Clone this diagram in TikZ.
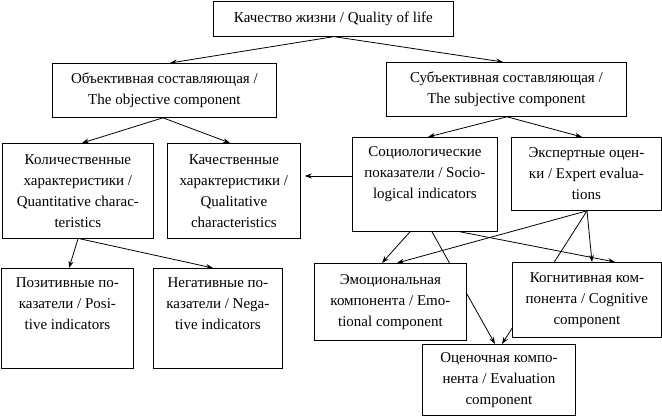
\documentclass[tikz,border=0pt]{standalone}
\usepackage{fontspec}
\setmainfont{Liberation Serif}
\usetikzlibrary{arrows.meta,calc}
\pgfdeclarelayer{background}
\pgfsetlayers{background,main}
\newcommand{\bxc}[3]{\parbox[c][#2][c]{#1}{\centering #3}}
\newcommand{\bxt}[3]{\parbox[c][#2][t]{#1}{\centering\vspace*{9pt}#3}}
\begin{document}
\begin{tikzpicture}[x=1pt,y=-1pt,
  box/.style={draw=black, line width=0.8pt, fill=white, inner sep=0pt, anchor=north west,
    font=\fontsize{15}{21}\selectfont},
  conn/.style={line width=0.8pt, -{Stealth[length=7pt,width=5pt]}},
  plain/.style={line width=0.8pt}]
\useasboundingbox (0,0) rectangle (662,417);

\node[box] (top)   at (213,1)   {\bxc{240pt}{35pt}{Качество жизни / Quality of life}};
\node[box] (obj)   at (52,63)   {\bxc{224pt}{54pt}{Объективная составляющая /\\The objective component}};
\node[box] (subj)  at (386,62)  {\bxc{240pt}{54pt}{Субъективная составляющая /\\The subjective component}};
\node[box] (quant) at (2,143)   {\bxc{151pt}{95pt}{Количественные\\характеристики /\\Quantitative charac-\\teristics}};
\node[box] (qual)  at (167,143) {\bxc{133pt}{95pt}{Качественные\\характеристики /\\Qualitative\\characteristics}};
\node[box] (soc)   at (352,137) {\bxt{145pt}{94pt}{Социологические\\показатели / Socio-\\logical indicators}};
\node[box] (exp)   at (511,137) {\bxc{150pt}{73pt}{Экспертные оцен-\\ки / Expert evalua-\\tions}};
\node[box] (pos)   at (1,268)   {\bxt{132pt}{100pt}{Позитивные по-\\казатели / Posi-\\tive indicators}};
\node[box] (neg)   at (153,268) {\bxt{129pt}{100pt}{Негативные по-\\казатели / Nega-\\tive indicators}};
\node[box] (emo)   at (314,263) {\bxc{152pt}{77pt}{Эмоциональная\\компонента / Emo-\\tional component}};
\node[box] (cog)   at (512,262) {\bxc{149pt}{75pt}{Когнитивная ком-\\понента / Cognitive\\component}};
\node[box] (eval)  at (422,344) {\bxc{153pt}{71pt}{Оценочная компо-\\нента / Evaluation\\component}};

\begin{pgfonlayer}{background}
\draw[conn] ($(top.south west)+(120,0)$) -- ($(obj.north west)+(118,0)$);
\draw[conn] ($(top.south west)+(122,0)$) -- ($(subj.north west)+(117,0)$);
\draw[conn] ($(obj.south west)+(111,0)$) -- ($(quant.north west)+(80,0)$);
\draw[conn] ($(obj.south west)+(111,0)$) -- ($(qual.north west)+(63,0)$);
\draw[conn] ($(subj.south west)+(121,0)$) -- ($(soc.north west)+(76,0)$);
\draw[conn] ($(subj.south west)+(121,0)$) -- ($(exp.north west)+(71,0)$);
\draw[conn] ($(quant.south west)+(76,0)$) -- ($(pos.north west)+(68,0)$);
\draw[conn] ($(quant.south west)+(78,0)$) -- ($(neg.north west)+(60,0)$);
\draw[conn] ($(soc.north west)+(0,39)$) -- ($(qual.north east)+(4,33)$);
\draw[conn] ($(soc.south west)+(58,0)$) -- ($(emo.north west)+(68,0)$);
\draw[conn] ($(soc.south west)+(80,0)$) -- ($(eval.north west)+(73,0)$);
\draw[conn] ($(soc.south west)+(108,0)$) -- ($(cog.north west)+(103,0)$);
\draw[conn] ($(exp.south west)+(76,0)$) -- ($(emo.north west)+(83,0)$);
\draw[conn] ($(exp.south west)+(76,0)$) -- ($(cog.north west)+(80,0)$);
\draw[conn] ($(exp.south west)+(76,0)$) -- ($(eval.north west)+(80,0)$);
\end{pgfonlayer}
\end{tikzpicture}
\end{document}
